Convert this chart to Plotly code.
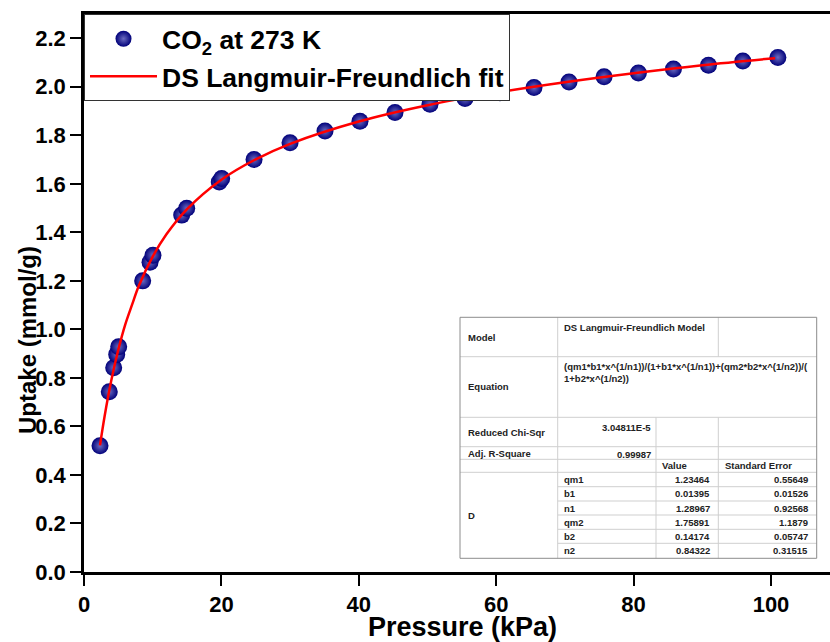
import plotly.graph_objects as go

# ---------------- data ----------------
pressure = [2.33, 3.68, 4.32, 4.76, 5.05, 8.54, 9.61, 10.04, 14.22, 14.95, 19.69, 20.04,
            24.75, 29.99, 35.08, 40.17, 45.27, 50.36, 55.46, 60.55, 65.5, 70.6, 75.7,
            80.7, 85.8, 90.9, 95.9, 101.0]
uptake = [0.520, 0.743, 0.842, 0.897, 0.928, 1.200, 1.277, 1.306, 1.471, 1.499, 1.608,
          1.622, 1.700, 1.769, 1.818, 1.858, 1.894, 1.928, 1.952, 1.975, 1.997, 2.020,
          2.041, 2.057, 2.073, 2.089, 2.106, 2.121]

fit_x = [2.33, 3, 4, 5, 6, 7, 8, 10, 12, 15, 20, 25, 30, 40, 50, 60, 70, 80, 90, 100.6]
fit_y = [0.522, 0.642, 0.793, 0.917, 1.020, 1.102, 1.181, 1.300, 1.392, 1.496, 1.617,
         1.701, 1.765, 1.857, 1.924, 1.976, 2.019, 2.056, 2.089, 2.118]

x_ticks = [0, 20, 40, 60, 80, 100]
y_ticks = [0.0, 0.2, 0.4, 0.6, 0.8, 1.0, 1.2, 1.4, 1.6, 1.8, 2.0, 2.2]

series_names = ["CO<sub>2</sub> at 273 K", "DS Langmuir-Freundlich fit"]

model_name = "DS Langmuir-Freundlich Model"
equation = "(qm1*b1*x^(1/n1))/(1+b1*x^(1/n1))+(qm2*b2*x^(1/n2))/(<br>1+b2*x^(1/n2))"
chi_sqr = "3.04811E-5"
adj_r2 = "0.99987"
param_names = ["qm1", "b1", "n1", "qm2", "b2", "n2"]
param_values = ["1.23464", "0.01395", "1.28967", "1.75891", "0.14174", "0.84322"]
param_errors = ["0.55649", "0.01526", "0.92568", "1.1879", "0.05747", "0.31515"]

# ---------------- figure ----------------
W, H = 830, 642
ML, MR, MT, MB = 84, 0, 14, 70
PW, PH = W - ML - MR, H - MT - MB
FONT = "Liberation Sans, Arial, sans-serif"


def px2x(px):
    return (px - ML) / PW


def py2y(py):
    return (H - MB - py) / PH


fig = go.Figure()
fig.add_trace(go.Scatter(
    x=pressure, y=uptake, mode="markers", name="<b>" + series_names[0] + "</b>",
    marker=dict(size=17, color="#00007a",
                gradient=dict(type="radial", color="#6b6bc0"),
                line=dict(width=0)),
))
fig.add_trace(go.Scatter(
    x=fit_x, y=fit_y, mode="lines", name="<b>" + series_names[1] + "</b>",
    line=dict(color="#ff0000", width=2.5, shape="spline"),
))

shapes = []
annotations = []

# ---- fit-result table ----
L, C1, C2, C3, R = 460, 557.7, 656, 718.3, 816.7
rows = [317.3, 356.7, 417.3, 446.7, 459.3, 472.3, 486.7, 501, 515, 529.3, 543.3, 558.3]
GRID = "#cfcfcf"
BORDER = "#8c8c8c"


def hline(x0, x1, y, color=GRID):
    shapes.append(dict(type="line", xref="paper", yref="paper",
                       x0=px2x(x0), x1=px2x(x1), y0=py2y(y), y1=py2y(y),
                       line=dict(color=color, width=1)))


def vline(x, y0, y1, color=GRID):
    shapes.append(dict(type="line", xref="paper", yref="paper",
                       x0=px2x(x), x1=px2x(x), y0=py2y(y0), y1=py2y(y1),
                       line=dict(color=color, width=1)))


shapes.append(dict(type="rect", xref="paper", yref="paper",
                   x0=px2x(L), x1=px2x(R), y0=py2y(rows[-1]), y1=py2y(rows[0]),
                   fillcolor="white", line=dict(width=0)))
for y in rows[1:6]:
    hline(L, R, y)
for y in rows[6:-1]:
    hline(C1, R, y)
vline(C1, rows[0], rows[-1])
vline(C3, rows[0], rows[1])
vline(C2, rows[2], rows[-1])
vline(C3, rows[2], rows[-1])
shapes.append(dict(type="rect", xref="paper", yref="paper",
                   x0=px2x(L), x1=px2x(R), y0=py2y(rows[-1]), y1=py2y(rows[0]),
                   line=dict(color=BORDER, width=1)))

TF = dict(family=FONT, size=9.5, color="#222222")


def text(s, x, y, xanchor="left", yanchor="middle"):
    annotations.append(dict(text="<b>" + s + "</b>", xref="paper", yref="paper",
                            x=px2x(x), y=py2y(y), xanchor=xanchor, yanchor=yanchor,
                            showarrow=False, font=TF, align="left"))


text("Model", 466, (rows[0] + rows[1]) / 2)
text(model_name, 562, rows[0] + 3, yanchor="top")
text("Equation", 466, (rows[1] + rows[2]) / 2)
text(equation, 562, rows[1] + 2, yanchor="top")
text("Reduced Chi-Sqr", 466, (rows[2] + rows[3]) / 2)
text(chi_sqr, 653, rows[2] + 3, xanchor="right", yanchor="top")
text("Adj. R-Square", 466, (rows[3] + rows[4]) / 2)
text(adj_r2, 653, rows[3], xanchor="right", yanchor="top")
text("Value", 660, (rows[4] + rows[5]) / 2)
text("Standard Error", 722.5, (rows[4] + rows[5]) / 2)
text("D", 466, (rows[5] + rows[-1]) / 2)
for i, (n, v, e) in enumerate(zip(param_names, param_values, param_errors)):
    yc = (rows[5 + i] + rows[6 + i]) / 2
    text(n, 562, yc)
    text(v, 712, yc, xanchor="right")
    text(e, 809.5, yc, xanchor="right")

# ---- axis titles ----
annotations.append(dict(text="<b>Uptake (mmol/g)</b>", xref="paper", yref="paper",
                        x=0, xshift=-57, y=py2y(340), textangle=-90,
                        xanchor="center", yanchor="middle", showarrow=False,
                        font=dict(family=FONT, size=24, color="black")))
annotations.append(dict(text="<b>Pressure (kPa)</b>", xref="paper", yref="paper",
                        x=px2x(462), y=0, yshift=-55,
                        xanchor="center", yanchor="middle", showarrow=False,
                        font=dict(family=FONT, size=27, color="black")))

fig.update_layout(
    width=W, height=H,
    margin=dict(l=ML, r=MR, t=MT, b=MB, pad=0),
    paper_bgcolor="white", plot_bgcolor="white",
    font=dict(family=FONT, color="black"),
    showlegend=True,
    legend=dict(x=0, y=1, xanchor="left", yanchor="top",
                bgcolor="white", bordercolor="#333333", borderwidth=1,
                font=dict(family=FONT, size=26.5, color="black"),
                itemwidth=67, tracegroupgap=0),
    shapes=shapes, annotations=annotations,
)
fig.update_xaxes(range=[0, (W - ML - MR) / (771 - 84) * 100], showgrid=False, zeroline=False,
                 showline=True, linecolor="black", linewidth=2.5, mirror=True,
                 ticks="outside", ticklen=11, tickwidth=2, tickcolor="black",
                 tickvals=x_ticks, ticktext=["<b>%d</b>" % v for v in x_ticks],
                 tickfont=dict(family=FONT, size=22, color="black"))
fig.update_yaxes(range=[0, 2.3], showgrid=False, zeroline=False,
                 showline=True, linecolor="black", linewidth=2.5, mirror=False,
                 ticks="outside", ticklen=11, tickwidth=2, tickcolor="black",
                 tickvals=y_ticks, ticktext=["<b>%.1f</b>" % v for v in y_ticks],
                 tickfont=dict(family=FONT, size=22, color="black"))

fig.write_html("out.html")
